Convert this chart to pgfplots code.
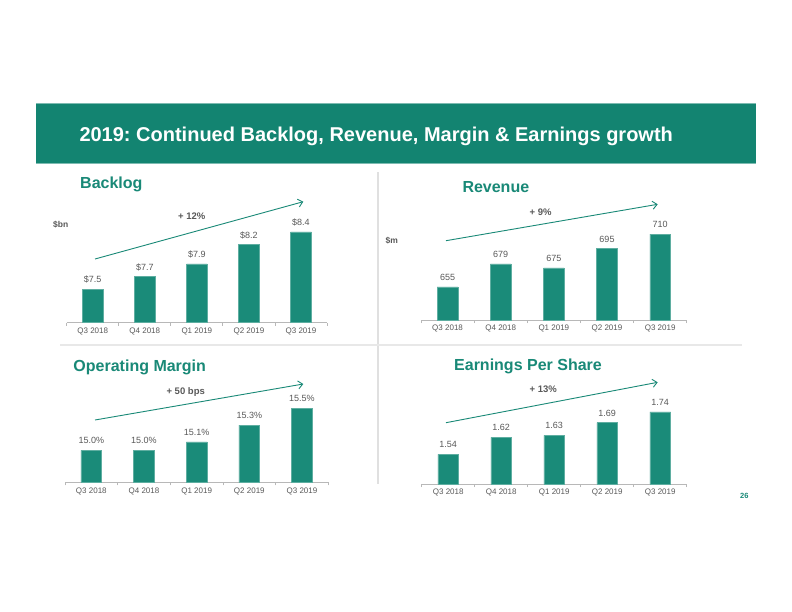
\documentclass[border=0pt]{standalone}
\usepackage{fontspec}
\setmainfont{Liberation Sans}
\usepackage{pgfplots}
\pgfplotsset{compat=1.18}
\usetikzlibrary{arrows.meta}
\definecolor{banner}{RGB}{19,132,113}
\definecolor{barfill}{RGB}{26,139,121}
\definecolor{headteal}{RGB}{25,137,119}
\definecolor{txtgray}{RGB}{89,89,89}
\frenchspacing

\pgfplotsset{
  kpi/.style={
    scale only axis,
    anchor=south west,
    height=100bp,
    xmin=-0.5, xmax=4.5,
    axis x line=bottom, axis y line=none,
    x axis line style={-, draw=black!28, line width=0.8bp},
    xtick={0,...,4},
    xticklabels={Q3 2018,Q4 2018,Q1 2019,Q2 2019,Q3 2019},
    minor xtick={-0.5,0.5,...,4.5},
    major tick length=0pt, minor tick length=3bp, tick align=outside,
    minor tick style={draw=black!28, line width=0.8bp},
    xticklabel style={font=\fontsize{8bp}{9bp}\selectfont, text=txtgray, inner sep=0pt, yshift=-5bp},
    ytick=\empty,
    ybar, bar width=20.7bp, bar shift=0pt,
    nodes near coords, point meta=explicit symbolic,
    every node near coord/.append style={font=\fontsize{9bp}{10bp}\selectfont, text=txtgray, inner sep=0pt, anchor=base, yshift=6.5bp},
    clip=false,
  },
  kpibar/.style={fill=barfill, draw=barfill!70!white, line width=0.5bp},
}

\begin{document}
\begin{tikzpicture}[x=1bp, y=-1bp]
\fill[white] (0,0) rectangle (792,612);
\useasboundingbox (0,0) rectangle (792,612);

% banner
\fill[banner] (36,103) rectangle (756,164.3);
\draw[banner!55!white, line width=0.8bp] (36,103.4) -- (756,103.4);
\draw[banner!55!white, line width=0.8bp] (36,163.9) -- (756,163.9);
\node[anchor=base west, inner sep=0pt, text=white, font=\fontsize{20bp}{24bp}\selectfont\bfseries]
  at (79.3,141.5) {2019: Continued Backlog, Revenue, Margin \& Earnings growth};

% dividers
\draw[black!12, line width=1.6bp] (378,172.3) -- (378,484.3);
\draw[black!9, line width=1.6bp] (60,344.7) -- (742,344.7);

% Backlog
\begin{axis}[kpi, at={(66.7bp,-322.7bp)}, width=260.3bp, ymin=6.98, ymax=8.5425]
\addplot[kpibar] coordinates {(0,7.5) [\$7.5] (1,7.7) [\$7.7] (2,7.9) [\$7.9] (3,8.2) [\$8.2] (4,8.4) [\$8.4]};
\end{axis}

% Revenue
\begin{axis}[kpi, at={(421bp,-320bp)}, width=265.7bp, ymin=620.6, ymax=724.8]
\addplot[kpibar] coordinates {(0,655) [655] (1,679) [679] (2,675) [675] (3,695) [695] (4,710) [710]};
\end{axis}

% Operating margin
\begin{axis}[kpi, at={(65bp,-482.3bp)}, width=263.3bp, ymin=14.62, ymax=15.81]
\addplot[kpibar] coordinates {(0,15.0) [15.0\%] (1,15.0) [15.0\%] (2,15.1) [15.1\%] (3,15.3) [15.3\%] (4,15.5) [15.5\%]};
\end{axis}

% EPS
\begin{axis}[kpi, at={(421.7bp,-484bp)}, width=265bp, ymin=1.40, ymax=1.872]
\addplot[kpibar] coordinates {(0,1.54) [1.54] (1,1.62) [1.62] (2,1.63) [1.63] (3,1.69) [1.69] (4,1.74) [1.74]};
\end{axis}

% panel titles
\tikzset{ptitle/.style={anchor=base west, inner sep=0pt, text=headteal, font=\fontsize{16bp}{19bp}\selectfont\bfseries}}
\node[ptitle] at (80,189) {Backlog};
\node[ptitle] at (462.3,193) {Revenue};
\node[ptitle] at (73.3,371.2) {Operating Margin};
\node[ptitle] at (454,370.5) {Earnings Per Share};

% units
\tikzset{unit/.style={inner sep=0pt, text=txtgray, font=\fontsize{8.5bp}{10bp}\selectfont\bfseries}}
\node[unit] at (60.7,225) {\$bn};
\node[unit] at (391.7,241) {\$m};

% growth arrows
\tikzset{growarrow/.style={draw=headteal, line width=0.9bp, -{Straight Barb[length=4.5bp,width=8bp]}},
         gtxt/.style={inner sep=0pt, text=txtgray, font=\fontsize{9.5bp}{11bp}\selectfont\bfseries}}
\draw[growarrow] (95,259) -- (303.3,201.7);
\node[gtxt] at (191.7,216.7) {+ 12\%};
\draw[growarrow] (446,240.7) -- (657.7,204.3);
\node[gtxt] at (540.7,212.3) {+ 9\%};
\draw[growarrow] (95,420) -- (303.3,384);
\node[gtxt] at (185.7,392.3) {+ 50 bps};
\draw[growarrow] (446,422.7) -- (657.7,382.3);
\node[gtxt] at (543.3,389) {+ 13\%};

% page number
\node[inner sep=0pt, text=headteal, font=\fontsize{7.5bp}{9bp}\selectfont\bfseries] at (744.3,495.7) {26};
\end{tikzpicture}
\end{document}
